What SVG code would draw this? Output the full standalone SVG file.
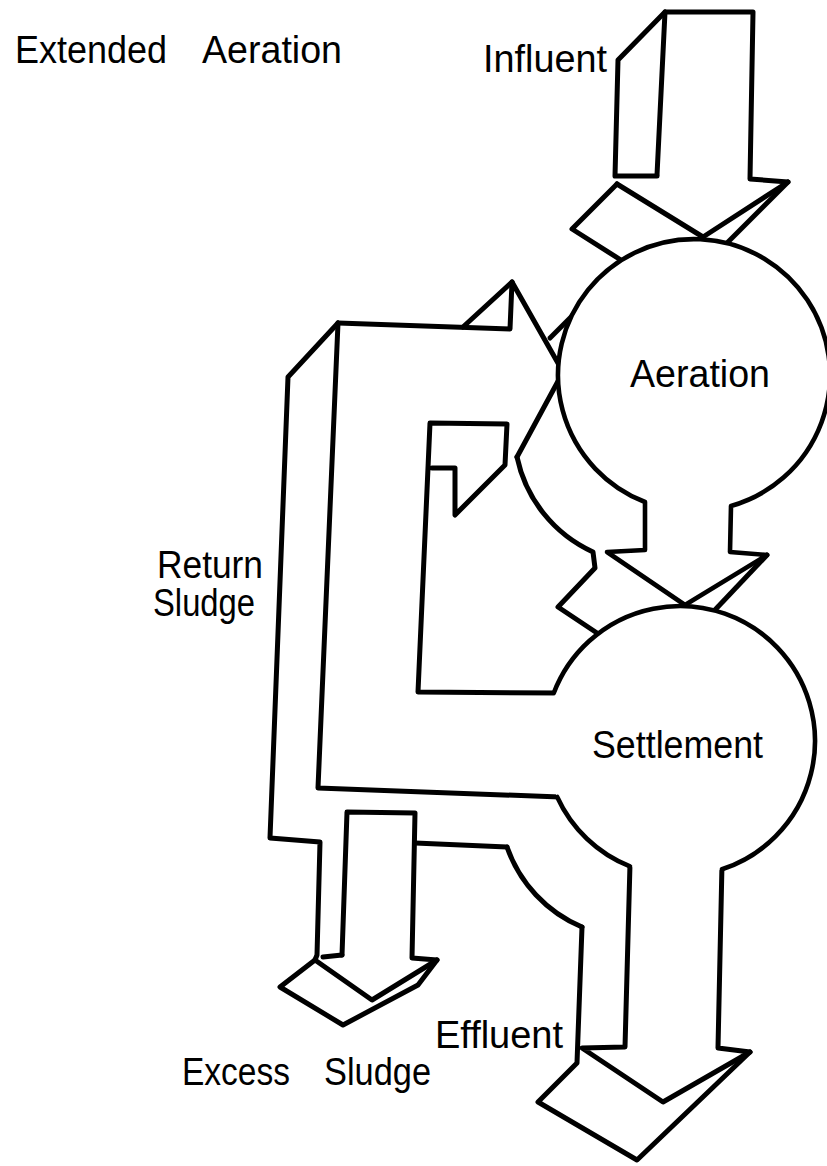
<svg xmlns="http://www.w3.org/2000/svg" width="827" height="1166" viewBox="0 0 827 1166">
  <style>
    .ln { fill: none; stroke: #000; stroke-width: 5; stroke-linejoin: round; stroke-linecap: round; }
    .body { fill: #fff; stroke: #000; stroke-width: 4.6; stroke-linejoin: round; }
    .mask { fill: #fff; stroke: none; }
    .rim { fill: none; stroke: #000; stroke-width: 4.6; stroke-linecap: round; }
    .lbl { font-family: "Liberation Sans", Arial, sans-serif; font-size: 38px; fill: #000; }
  </style>
  <rect width="827" height="1166" fill="#fff"/>

  <!-- Title -->
  <text class="lbl" y="63" font-size="40"><tspan x="15" textLength="152" lengthAdjust="spacingAndGlyphs">Extended</tspan> <tspan x="202" textLength="140" lengthAdjust="spacingAndGlyphs">Aeration</tspan></text>

  <!-- Flow arrows (extruded bands) -->
  <g id="connectors">
    <g id="influent">
      <polyline class="ln" points="657,175 665,12 753,12 750,179 788,182 703,237 617,184"/>
      <polyline class="ln" points="665,12 618,60 615,176 657,176"/>
      <polyline class="ln" points="617,184 572,229 624,262"/>
      <polyline class="ln" points="788,182 725,245"/>
      <text class="lbl" x="483" y="72" font-size="39" textLength="124" lengthAdjust="spacingAndGlyphs">Influent</text>
    </g>

    <g id="return-sludge">
      <!-- outer side face -->
      <polyline class="ln" points="338,323 288,377 270,838 320,842 317,955 315,960"/>
      <!-- outer front edge and lower run into settlement -->
      <polyline class="ln" points="338,323 318,788 560,797"/>
      <!-- upper run and head pointing at aeration -->
      <polyline class="ln" points="338,323 510,329 512,282 563,372 517,457"/>
      <line class="ln" x1="463" y1="327" x2="512" y2="282"/>
      <line class="ln" x1="550" y1="338" x2="575" y2="313"/>
      <!-- inner edge with lower barb -->
      <polyline class="ln" points="560,693 418,692 430,423 507,424 505,465 455,515 455,468 432,468"/>
      <!-- back edge of lower run -->
      <line class="ln" x1="415" y1="843" x2="507" y2="847"/>
      <text class="lbl" font-size="33"><tspan x="157" y="578" textLength="106" lengthAdjust="spacingAndGlyphs">Return</tspan> <tspan x="153" y="616" textLength="102" lengthAdjust="spacingAndGlyphs">Sludge</tspan></text>
    </g>

    <g id="excess-sludge">
      <polyline class="ln" points="342,955 347,812 415,813 412,958 437,960 372,1000 315,960"/>
      <line class="ln" x1="323" y1="957" x2="342" y2="955"/>
      <polyline class="ln" points="315,960 280,987 343,1025 418,985 437,960"/>
      <text class="lbl" y="1085"><tspan x="182" textLength="108" lengthAdjust="spacingAndGlyphs">Excess</tspan> <tspan x="324" textLength="107" lengthAdjust="spacingAndGlyphs">Sludge</tspan></text>
    </g>

    <g id="effluent">
      <polyline class="ln" points="630,864 625,1047 582,1048 663,1102 750,1052 718,1048 722,864"/>
      <polyline class="ln" points="582,927 577,1063 538,1102 637,1160 750,1052"/>
      <text class="lbl" x="435" y="1048" textLength="128" lengthAdjust="spacing">Effluent</text>
    </g>
  </g>

  <!-- Aeration tank with outlet arrow to settlement -->
  <g id="aeration">
    <path class="ln" d="M517,457 A135,135 0 0 0 593,552 L595,568 L558,607 L600,635"/>
    <line class="ln" x1="767" y1="555" x2="713" y2="612"/>
    <path class="body" d="M645,502 L645,550 L607,552 L685,605 L767,555 L730,552 L731,506 A136,136 0 1 0 645,502 Z"/>
    <text class="lbl" x="630" y="387" font-size="39" textLength="140" lengthAdjust="spacingAndGlyphs">Aeration</text>
  </g>

  <!-- Settlement tank -->
  <g id="settlement">
    <path class="ln" d="M507,847 A135,135 0 0 0 582,927"/>
    <circle class="mask" cx="680" cy="741" r="135"/>
    <path class="rim" d="M553.8,693 A135,135 0 1 1 722,869.3"/>
    <path class="rim" d="M557.2,797 A135,135 0 0 0 630,866.4"/>
    <text class="lbl" x="592" y="758" textLength="171" lengthAdjust="spacingAndGlyphs">Settlement</text>
  </g>
</svg>
